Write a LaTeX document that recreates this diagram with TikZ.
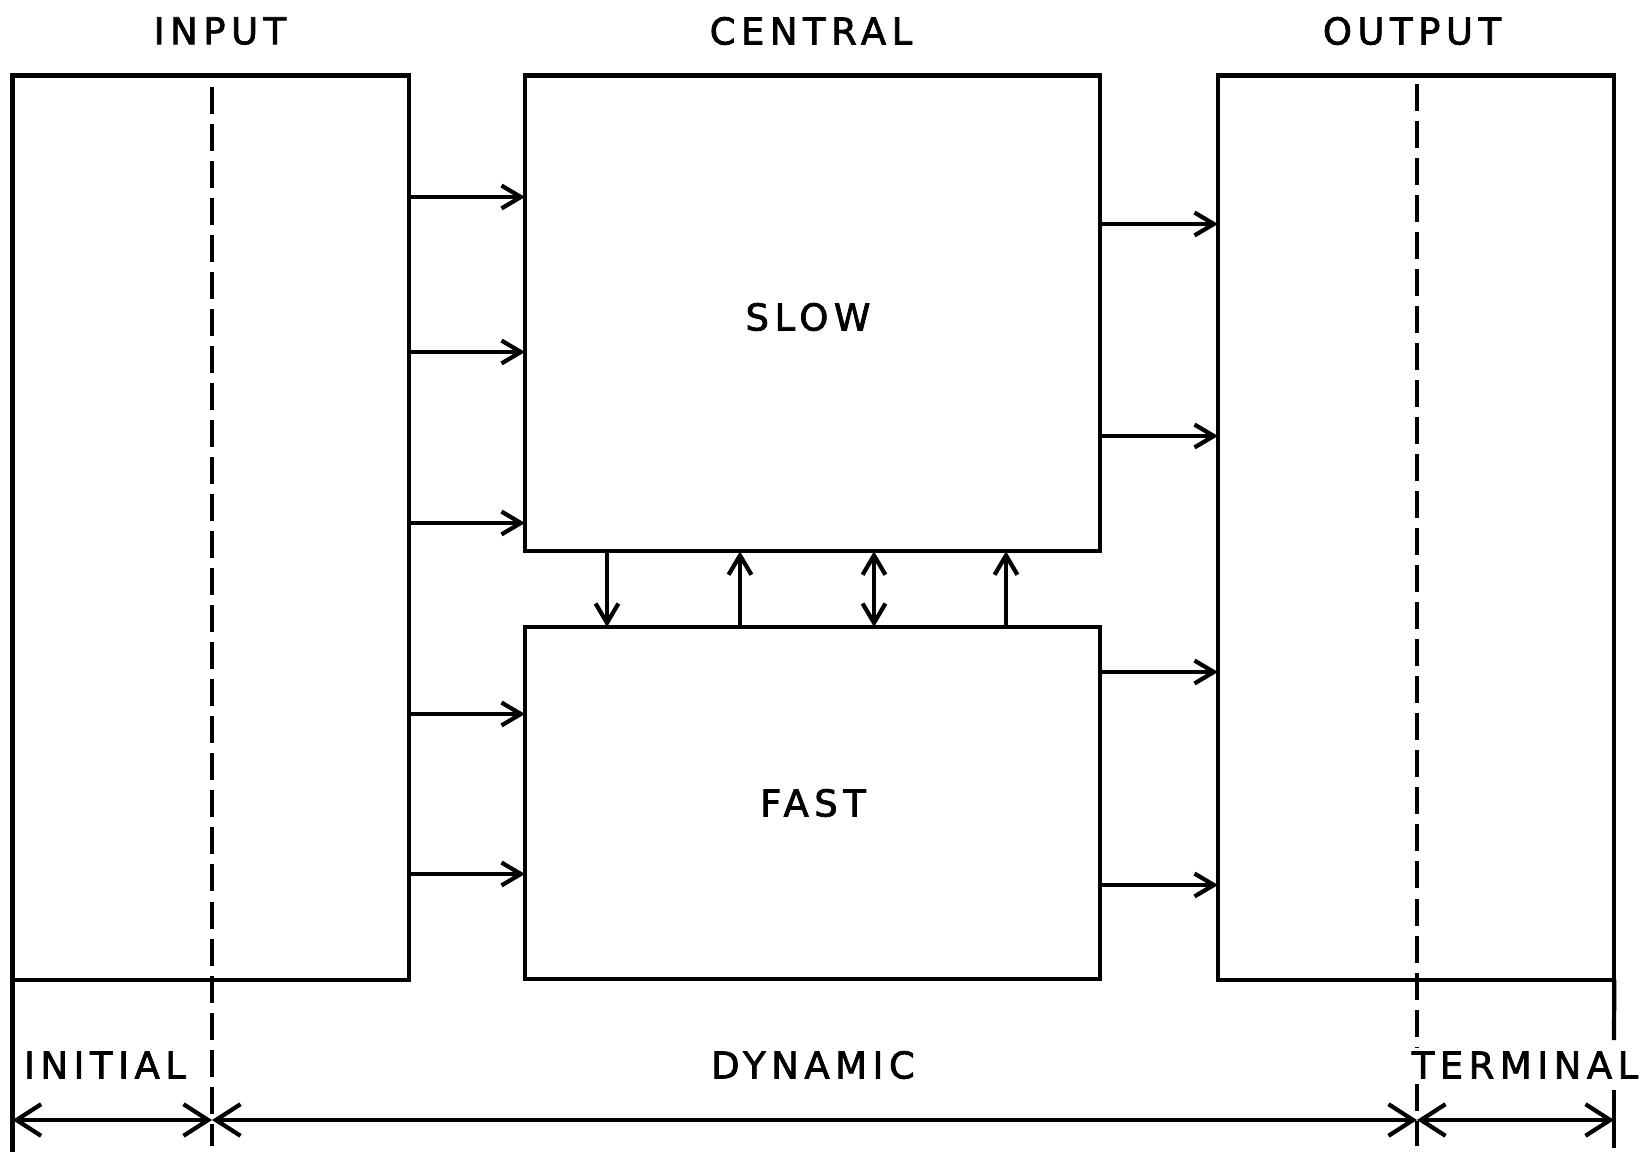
\documentclass[tikz,border=0pt]{standalone}
\usepackage{fontspec}
\setmainfont{DejaVu Sans}[LetterSpace=15,FakeBold=2]
\usetikzlibrary{arrows.meta}
\begin{document}
\begin{tikzpicture}[x=0.01cm,y=-0.01cm,
  line width=1.2pt,
  blk/.style={draw,rectangle,outer sep=0pt,inner sep=0pt,anchor=north west},
  lbl/.style={font=\fontsize{10.5pt}{12pt}\selectfont,inner sep=1pt},
  flow/.style={-{Straight Barb[length=5.5pt,width=6.5pt]}},
  bflow/.style={{Straight Barb[length=5.5pt,width=6.5pt]}-{Straight Barb[length=5.5pt,width=6.5pt]}},
  dimline/.style={{Straight Barb[length=7pt,width=9pt]}-{Straight Barb[length=7pt,width=9pt]}},
  phase/.style={dash pattern=on 0.27cm off 0.1cm}]
\useasboundingbox (0,0) rectangle (1646,1152);

% the four blocks
\node[blk,minimum width=3.965cm,minimum height=9.035cm] (inp)  at (12.6,75.6) {};
\node[blk,minimum width=5.75cm,minimum height=4.754cm]  (slow) at (525,75.6) {};
\node[blk,minimum width=5.75cm,minimum height=3.52cm]   (fast) at (525,627) {};
\node[blk,minimum width=3.96cm,minimum height=9.035cm]  (out)  at (1218,75.6) {};

% headings and block names
\node[lbl] (tin)  at (220,31)  {INPUT};
\node[lbl] (tcen) at (811,31)  {CENTRAL};
\node[lbl] (tout) at (1412,31) {OUTPUT};
\node[lbl] (tslow) at (808,317) {SLOW};
\node[lbl] (tfast) at (813,803) {FAST};

% input to central
\foreach \y in {197,352,523}
  \draw[flow] (inp.east |- 0,\y) -- (slow.west |- 0,\y);
\foreach \y in {714,874}
  \draw[flow] (inp.east |- 0,\y) -- (fast.west |- 0,\y);

% central to output
\foreach \y in {224,436}
  \draw[flow] (slow.east |- 0,\y) -- (out.west |- 0,\y);
\foreach \y in {672,885}
  \draw[flow] (fast.east |- 0,\y) -- (out.west |- 0,\y);

% exchange between slow and fast parts
\draw[flow]  (slow.south -| 607,0)  -- (fast.north -| 607,0);
\draw[flow]  (fast.north -| 740,0)  -- (slow.south -| 740,0);
\draw[bflow] (slow.south -| 874,0)  -- (fast.north -| 874,0);
\draw[flow]  (fast.north -| 1006,0) -- (slow.south -| 1006,0);

% phase boundaries
\draw[phase] (212,87) -- (212,1146);
\draw[phase] (1417,84) -- (1417,1146);

% extension lines
\draw (inp.south west) -- (12.6,1152);
\draw (out.south east) -- (1614,1040);
\draw (1614,1090) -- (1614,1148);

% phase dimensions
\coordinate (d0) at (12.6,1120);
\coordinate (d1) at (212,1120);
\coordinate (d2) at (1417,1120);
\coordinate (d3) at (1614,1120);
\draw[dimline] (d0) -- (d1);
\draw[dimline] (d1) -- (d2);
\draw[dimline] (d2) -- (d3);

\node[lbl] (tini)  at (105,1065)  {INITIAL};
\node[lbl] (tdyn)  at (813,1065)  {DYNAMIC};
\node[lbl,fill=white] (tterm) at (1525,1065) {TERMINAL};
\end{tikzpicture}
\end{document}
